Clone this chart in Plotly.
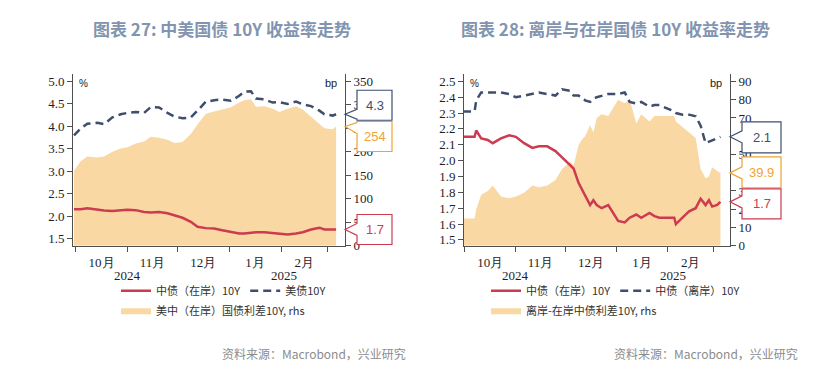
import plotly.graph_objects as go

# ---------------- data ----------------
dates_l = ["2024-09-30", "2024-10-04", "2024-10-08", "2024-10-14", "2024-10-18", "2024-10-23",
           "2024-10-28", "2024-11-01", "2024-11-06", "2024-11-11", "2024-11-15", "2024-11-20",
           "2024-11-25", "2024-11-29", "2024-12-04", "2024-12-09", "2024-12-13", "2024-12-18",
           "2024-12-23", "2024-12-27", "2025-01-02", "2025-01-07", "2025-01-10", "2025-01-14",
           "2025-01-17", "2025-01-22", "2025-01-27", "2025-01-31", "2025-02-05", "2025-02-10",
           "2025-02-14", "2025-02-19", "2025-02-24", "2025-02-27", "2025-03-04", "2025-03-06"]
cn_onshore_l = [2.16, 2.16, 2.18, 2.14, 2.13, 2.12, 2.14, 2.15, 2.14, 2.10, 2.09, 2.10,
                2.07, 2.03, 1.97, 1.88, 1.77, 1.74, 1.73, 1.70, 1.65, 1.62, 1.62, 1.64,
                1.65, 1.65, 1.63, 1.61, 1.60, 1.62, 1.65, 1.71, 1.75, 1.71, 1.72, 1.71]
us_10y_l = [3.80, 3.95, 4.06, 4.08, 4.05, 4.20, 4.27, 4.30, 4.32, 4.30, 4.43, 4.42,
            4.30, 4.22, 4.18, 4.20, 4.35, 4.55, 4.58, 4.60, 4.57, 4.68, 4.77, 4.78,
            4.62, 4.60, 4.53, 4.54, 4.50, 4.55, 4.49, 4.45, 4.35, 4.27, 4.24, 4.27]
spread_us_cn = [160, 180, 190, 188, 190, 200, 207, 210, 218, 222, 232, 230,
                226, 219, 221, 238, 258, 281, 286, 290, 295, 305, 310, 312,
                296, 297, 292, 285, 292, 297, 290, 275, 258, 250, 248, 254]

dates_r = ["2024-09-30", "2024-10-07", "2024-10-08", "2024-10-11", "2024-10-15", "2024-10-18",
           "2024-10-23", "2024-10-28", "2024-11-01", "2024-11-06", "2024-11-11", "2024-11-15",
           "2024-11-20", "2024-11-25", "2024-11-29", "2024-12-04", "2024-12-06", "2024-12-09",
           "2024-12-11", "2024-12-13", "2024-12-16", "2024-12-18", "2024-12-20", "2024-12-23",
           "2024-12-27", "2025-01-02", "2025-01-06", "2025-01-09", "2025-01-13", "2025-01-16",
           "2025-01-21", "2025-01-24", "2025-01-27", "2025-02-05", "2025-02-06", "2025-02-10",
           "2025-02-14", "2025-02-18", "2025-02-21", "2025-02-24", "2025-02-26", "2025-02-28",
           "2025-03-03", "2025-03-05"]
cn_onshore_r = [2.15, 2.15, 2.19, 2.14, 2.13, 2.11, 2.14, 2.16, 2.15, 2.11, 2.08, 2.09,
                2.09, 2.06, 2.02, 1.97, 1.95, 1.86, 1.82, 1.79, 1.72, 1.75, 1.72, 1.70,
                1.72, 1.62, 1.61, 1.64, 1.66, 1.64, 1.67, 1.65, 1.64, 1.64, 1.60, 1.64,
                1.68, 1.70, 1.76, 1.72, 1.75, 1.71, 1.72, 1.74]
cn_offshore_r = [2.31, 2.31, 2.38, 2.43, 2.43, 2.43, 2.43, 2.42, 2.40, 2.41, 2.42, 2.43,
                 2.42, 2.41, 2.45, 2.44, 2.41, 2.41, 2.40, 2.38, 2.37, 2.39, 2.40, 2.41,
                 2.42, 2.42, 2.43, 2.37, 2.36, 2.37, 2.34, 2.35, 2.35, 2.31, 2.30, 2.29,
                 2.29, 2.28, 2.22, 2.11, 2.12, 2.13, 2.14, 2.15]
spread_off_on = [15, 15, 20, 28, 30, 33, 27, 26, 27, 29, 33, 32,
                 33, 36, 42, 46, 44, 55, 58, 60, 66, 62, 70, 72,
                 71, 80, 78, 80, 67, 72, 68, 71, 71, 71, 68, 65,
                 62, 59, 42, 37, 38, 43, 41, 39.9]

titles = ["图表 27: 中美国债 10Y 收益率走势", "图表 28: 离岸与在岸国债 10Y 收益率走势"]
names_l = ["中债（在岸）10Y", "美债10Y", "美中（在岸）国债利差10Y, rhs"]
names_r = ["中债（在岸）10Y", "中债（离岸）10Y", "离岸-在岸中债利差10Y, rhs"]
source_text = "资料来源：Macrobond，兴业研究"

# ---------------- style ----------------
W, H = 823, 372
RED = "#CC3B50"
NAVY = "#3E4E6C"
FILL = "#F9D8A4"
ORANGE = "#F0A232"
AXIS = "#505050"
TICKC = "#1E1E2A"
SERIF = "Liberation Serif, Times New Roman, serif"
CJK = "Noto Sans CJK SC, sans-serif"

L0, L1 = 65 / W, 337 / W
R0, R1 = 456 / W, 722 / W
YD = [1 - 243 / H, 1 - 67 / H]

fig = go.Figure()

# left chart
fig.add_trace(go.Scatter(x=dates_l, y=spread_us_cn, name=names_l[2], mode="lines",
                         line=dict(width=0, color=FILL), fill="tozeroy", fillcolor=FILL,
                         xaxis="x", yaxis="y", legend="legend2", hoverinfo="skip"))
fig.add_trace(go.Scatter(x=dates_l, y=cn_onshore_l, name=names_l[0], mode="lines",
                         line=dict(width=2.5, color=RED), xaxis="x", yaxis="y2", legend="legend"))
fig.add_trace(go.Scatter(x=dates_l, y=us_10y_l, name=names_l[1], mode="lines",
                         line=dict(width=2.5, color=NAVY, dash="8px,5px"), xaxis="x", yaxis="y2",
                         legend="legend"))
# right chart
fig.add_trace(go.Scatter(x=dates_r, y=spread_off_on, name=names_r[2], mode="lines",
                         line=dict(width=0, color=FILL), fill="tozeroy", fillcolor=FILL,
                         xaxis="x2", yaxis="y3", legend="legend4", hoverinfo="skip"))
fig.add_trace(go.Scatter(x=dates_r, y=cn_onshore_r, name=names_r[0], mode="lines",
                         line=dict(width=2.5, color=RED), xaxis="x2", yaxis="y4", legend="legend3"))
fig.add_trace(go.Scatter(x=dates_r, y=cn_offshore_r, name=names_r[1], mode="lines",
                         line=dict(width=2.5, color=NAVY, dash="8px,5px"), xaxis="x2", yaxis="y4",
                         legend="legend3"))

tickfont = dict(family=SERIF, size=13, color=TICKC)
xcommon = dict(type="date", dtick="M1", tick0="2024-10-01", tickformat="%-m月",
               ticklabelmode="period", ticks="outside", ticklen=5, tickcolor=AXIS,
               showline=True, linecolor=AXIS, linewidth=1, showgrid=False, zeroline=False,
               tickfont=tickfont, fixedrange=True)
ycommon = dict(ticks="outside", ticklen=5, tickcolor=AXIS, showline=True, linecolor=AXIS,
               linewidth=1, showgrid=False, zeroline=False, tickfont=tickfont)

fig.update_layout(
    width=W, height=H, margin=dict(l=0, r=0, t=0, b=0),
    paper_bgcolor="white", plot_bgcolor="white", showlegend=True,
    xaxis=dict(domain=[L0, L1], anchor="y", range=["2024-09-29 10:00", "2025-03-11 08:00"], **xcommon),
    yaxis=dict(domain=YD, anchor="x", side="right", range=[0, 366.7], dtick=50, **ycommon),
    yaxis2=dict(overlaying="y", anchor="x", side="left", range=[1.348, 5.174], dtick=0.5,
                tickformat=".1f", **ycommon),
    xaxis2=dict(domain=[R0, R1], anchor="y3", range=["2024-09-30 14:00", "2025-03-10 19:00"], **xcommon),
    yaxis3=dict(domain=YD, anchor="x2", side="right", range=[0, 94.3], dtick=10, **ycommon),
    yaxis4=dict(overlaying="y3", anchor="x2", side="left", range=[1.463, 2.549], dtick=0.1,
                tickformat=".1f", **ycommon),
)

legfont = dict(family=CJK, size=11, color="#333333")
legcommon = dict(orientation="h", xanchor="left", yanchor="middle", font=legfont,
                 bgcolor="rgba(0,0,0,0)", itemwidth=30, traceorder="normal")
fig.update_layout(
    legend=dict(x=108 / W, y=1 - 289 / H, **legcommon),
    legend2=dict(x=108 / W, y=1 - 309 / H, **legcommon),
    legend3=dict(x=478 / W, y=1 - 289 / H, **legcommon),
    legend4=dict(x=478 / W, y=1 - 309 / H, **legcommon),
)

ann = []
# titles
for txt, cx in zip(titles, [214 / W, 607 / W]):
    ann.append(dict(text=f"<b>{txt}</b>", x=cx, y=1 - 21 / H, xref="paper", yref="paper",
                    xanchor="center", yanchor="middle", showarrow=False,
                    font=dict(family=CJK, size=17, color="#8194B0")))
# sources
for xr in [400 / W, 792 / W]:
    ann.append(dict(text=source_text, x=xr, y=1 - 353 / H, xref="paper", yref="paper",
                    xanchor="right", yanchor="middle", showarrow=False,
                    font=dict(family=CJK, size=12, color="#8C8C8C")))
# years
for xa, d1, d2 in [("x", "2024-11-01", "2025-02-03"), ("x2", "2024-11-01", "2025-02-04")]:
    for d, t in [(d1, "2024"), (d2, "2025")]:
        ann.append(dict(text=t, x=d, xref=xa, y=1 - 273 / H, yref="paper", xanchor="center",
                        yanchor="middle", showarrow=False, font=tickfont))
# unit labels
for xa, ya in [("x", "y"), ("x2", "y3")]:
    ann.append(dict(text="%", x=0, xref=f"{xa} domain", y=1, yref=f"{ya} domain", xanchor="left",
                    yanchor="top", xshift=4, yshift=-2, showarrow=False,
                    font=dict(family="Liberation Sans, Arial", size=10, color="#222")))
    ann.append(dict(text="bp", x=1, xref=f"{xa} domain", y=1, yref=f"{ya} domain", xanchor="right",
                    yanchor="top", xshift=-6, yshift=-1, showarrow=False,
                    font=dict(family="Liberation Sans, Arial", size=11, color="#222")))

shapes = []


def callout(xend, yref, value, text, color, top, bottom, bx0, bx1, n1, n2):
    pts = [(0, 0), (bx0, n1), (bx0, top), (bx1, top), (bx1, bottom), (bx0, bottom), (bx0, n2)]
    path = "M" + " L".join(f"{x},{-y}" for x, y in pts) + " Z"
    shapes.append(dict(type="path", xref="paper", yref=yref, xsizemode="pixel", ysizemode="pixel",
                       xanchor=xend, yanchor=value, path=path, fillcolor="white",
                       line=dict(color=color, width=1.2), layer="above"))
    ann.append(dict(text=text, x=xend, xref="paper", y=value, yref=yref, xanchor="center",
                    yanchor="middle", xshift=(bx0 + bx1) / 2, yshift=-(top + bottom) / 2,
                    showarrow=False, font=dict(family="Liberation Sans, Arial", size=13, color=color)))


callout(L1, "y2", us_10y_l[-1], f"{us_10y_l[-1]:.1f}", NAVY, -24, 6, 12, 47, -5, 5)
callout(L1, "y", spread_us_cn[-1], f"{spread_us_cn[-1]:.0f}", ORANGE, -5, 25, 12, 47, -4, 7)
callout(L1, "y2", cn_onshore_l[-1], f"{cn_onshore_l[-1]:.1f}", RED, -15, 15, 12, 47, -6, 6)
callout(R1, "y4", cn_offshore_r[-1], f"{cn_offshore_r[-1]:.1f}", NAVY, -15, 16, 12, 51, -6, 6)
callout(R1, "y3", spread_off_on[-1], f"{spread_off_on[-1]:.1f}", ORANGE, -16, 15, 12, 51, -6, 6)
callout(R1, "y4", cn_onshore_r[-1], f"{cn_onshore_r[-1]:.1f}", RED, -13, 17, 12, 51, -6, 6)

fig.update_layout(annotations=ann, shapes=shapes)
fig.write_html("out.html")
